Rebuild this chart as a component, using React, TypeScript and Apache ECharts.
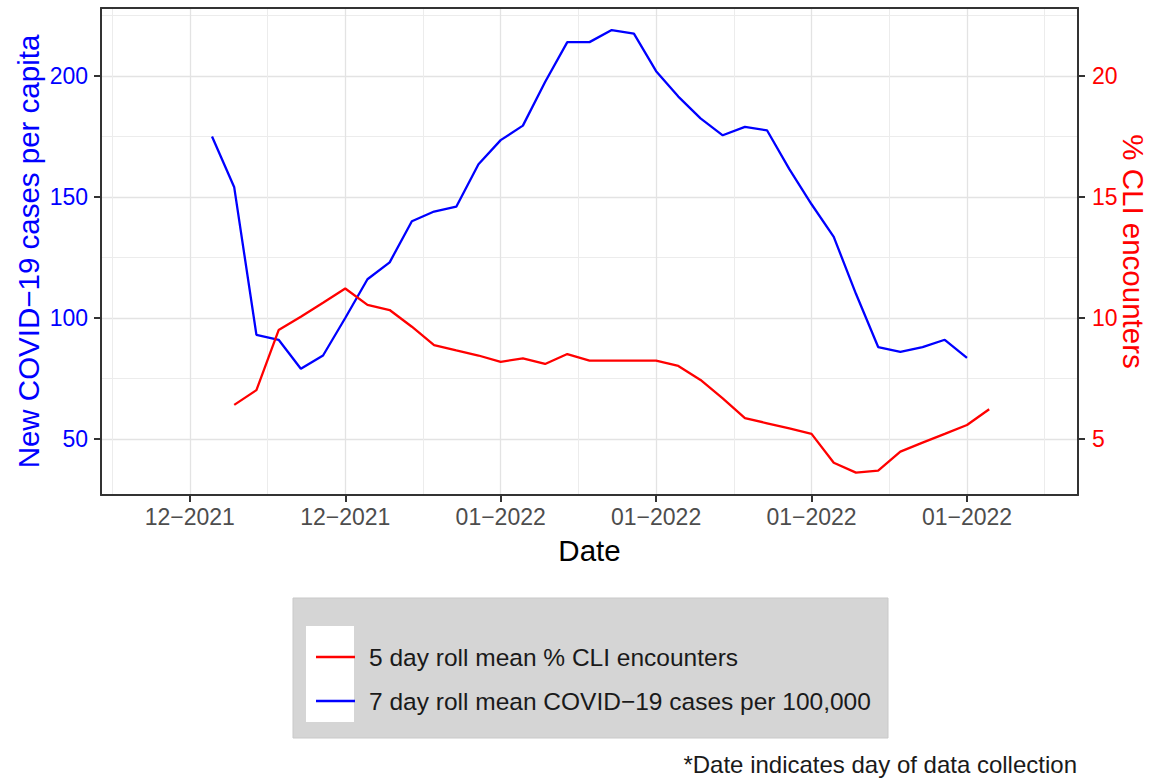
import React, { useEffect, useRef } from 'react';
import * as echarts from 'echarts';

const xTickDays = [0, 7, 14, 21, 28, 35];
const xTickLabels = ['12−2021', '12−2021', '01−2022', '01−2022', '01−2022', '01−2022'];
const xMinorDays = [-3.5, 3.5, 10.5, 17.5, 24.5, 31.5, 38.5];
const leftTicks = [50, 100, 150, 200];
const leftMinor = [75, 125, 175, 225];
const rightTicks = [5, 10, 15, 20];

const blueName = '7 day roll mean COVID−19 cases per 100,000';
const redName = '5 day roll mean % CLI encounters';

const blueStartDay = 1;
const blueValues = [175, 154, 93, 91, 79, 84.5, 100, 116, 123, 140, 144, 146, 163.5, 173.5, 179.5, 197.5, 214, 214, 219, 217.5, 202, 191.5, 182.5, 175.5, 179, 177.5, 161.5, 147, 133.5, 110, 88, 86, 88, 91, 83.5];
const redStartDay = 2;
const redValues = [6.41, 7.02, 9.5, 10.05, 10.63, 11.22, 10.54, 10.33, 9.64, 8.88, 8.66, 8.45, 8.19, 8.33, 8.1, 8.51, 8.24, 8.24, 8.24, 8.24, 8.02, 7.44, 6.68, 5.86, 5.65, 5.44, 5.21, 4.02, 3.61, 3.69, 4.48, 4.85, 5.21, 5.58, 6.23];

const FONT = "'Liberation Sans', Arial, sans-serif";

export default function App() {
  const ref = useRef<HTMLDivElement>(null);
  useEffect(() => {
    if (!ref.current) return;
    const chart = echarts.init(ref.current, undefined, { renderer: 'svg' });
    const blueData = blueValues.map((v, i) => [blueStartDay + i, v]);
    const redData = redValues.map((v, i) => [redStartDay + i, v]);
    const axisLine = { show: true, onZero: false, lineStyle: { color: '#333333', width: 2 } };
    const tick = { show: true, length: 7, lineStyle: { color: '#333333', width: 2 } };
    const grid = { color: '#e3e3e3', width: 1.3 };
    const gridMinor = { color: '#ececec', width: 1 };
    chart.setOption({
      animation: false,
      textStyle: { fontFamily: FONT },
      grid: { left: 101, right: 76, top: 8, bottom: 284, containLabel: false, outerBoundsMode: 'none' },
      xAxis: [
        {
          type: 'value', min: -4, max: 40, position: 'bottom',
          axisLine,
          axisTick: { ...tick, customValues: xTickDays },
          axisLabel: {
            customValues: xTickDays,
            formatter: (v: number) => xTickLabels[xTickDays.indexOf(v)] ?? '',
            color: '#4d4d4d', fontSize: 23, margin: 10, fontFamily: FONT,
          },
          splitLine: { show: true, lineStyle: grid },
          name: 'Date', nameLocation: 'middle', nameGap: 40, nameMoveOverlap: false,
          nameTextStyle: { fontSize: 29.5, color: '#000000', fontFamily: FONT },
        },
        {
          type: 'value', min: -4, max: 40, position: 'top',
          axisLine,
          axisTick: { show: false, customValues: xMinorDays },
          axisLabel: { show: false, customValues: xMinorDays },
          splitLine: { show: true, lineStyle: gridMinor },
        },
      ],
      yAxis: [
        {
          type: 'value', min: 26.86, max: 228.1, position: 'left',
          axisLine,
          axisTick: { ...tick, customValues: leftTicks },
          axisLabel: { customValues: leftTicks, color: '#0000ff', fontSize: 23, margin: 13, fontFamily: FONT },
          splitLine: { show: true, lineStyle: grid },
          name: 'New COVID−19 cases per capita', nameLocation: 'middle', nameRotate: 90, nameGap: 58, nameMoveOverlap: false,
          nameTextStyle: { fontSize: 29.5, color: '#0000ff', fontFamily: FONT },
        },
        {
          type: 'value', min: 2.686, max: 22.81, position: 'right',
          axisLine,
          axisTick: { ...tick, customValues: rightTicks },
          axisLabel: { customValues: rightTicks, color: '#ff0000', fontSize: 23, margin: 14, fontFamily: FONT },
          splitLine: { show: false },
          name: '% CLI encounters', nameLocation: 'middle', nameRotate: -90, nameGap: 40, nameMoveOverlap: false,
          nameTextStyle: { fontSize: 29.5, color: '#ff0000', fontFamily: FONT },
        },
        {
          type: 'value', min: 26.86, max: 228.1, position: 'left',
          axisLine: { show: false, onZero: false },
          axisTick: { show: false, customValues: leftMinor },
          axisLabel: { show: false, customValues: leftMinor },
          splitLine: { show: true, lineStyle: gridMinor },
        },
      ],
      legend: {
        left: 311, top: 638, orient: 'vertical',
        itemWidth: 39, itemHeight: 2.5, itemGap: 16, icon: 'rect',
        textStyle: { fontSize: 24.5, color: '#1a1a1a', lineHeight: 28, padding: [0, 0, 0, 9], fontFamily: FONT },
        data: [redName, blueName],
        z: 10,
      },
      graphic: [
        { type: 'rect', z: 1, shape: { x: 293, y: 598, width: 595, height: 140 }, style: { fill: '#d5d5d5', stroke: '#c9c9c9', lineWidth: 1 } },
        { type: 'rect', z: 2, shape: { x: 306, y: 626, width: 48, height: 96 }, style: { fill: '#ffffff' } },
        { type: 'text', z: 2, x: 1077, y: 764, style: { text: '*Date indicates day of data collection', align: 'right', verticalAlign: 'middle', fontSize: 24, fill: '#1a1a1a', font: `24px ${FONT}` } },
      ],
      series: [
        {
          name: blueName, type: 'line', xAxisIndex: 0, yAxisIndex: 0, data: blueData,
          symbol: 'none', lineStyle: { color: '#0000ff', width: 2.3 }, itemStyle: { color: '#0000ff' }, z: 3,
        },
        {
          name: redName, type: 'line', xAxisIndex: 0, yAxisIndex: 1, data: redData,
          symbol: 'none', lineStyle: { color: '#ff0000', width: 2.3 }, itemStyle: { color: '#ff0000' }, z: 4,
        },
      ],
    });
    return () => chart.dispose();
  }, []);
  return <div ref={ref} style={{ position: 'absolute', left: 0, top: 0, width: 1154, height: 779 }} />;
}
